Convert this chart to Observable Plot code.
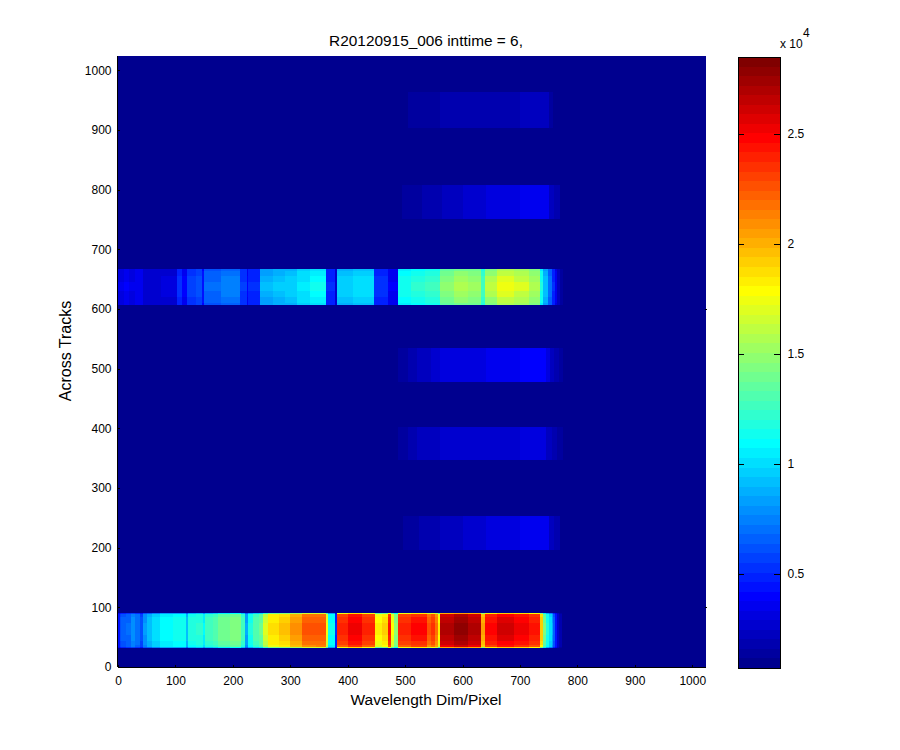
<!DOCTYPE html>
<html><head><meta charset="utf-8">
<script src="https://cdn.jsdelivr.net/npm/d3@7"></script>
<script src="https://cdn.jsdelivr.net/npm/@observablehq/plot@0.6"></script>
<style>
html,body{margin:0;padding:0;background:#fff}
#wrap{position:relative;width:900px;height:750px;font-family:"Liberation Sans",Arial,sans-serif;color:#000;overflow:hidden}
#wrap svg{position:absolute;left:0;top:0}
.t{position:absolute;white-space:nowrap}
</style></head><body><div id="wrap"></div>
<script>
const titleText = "R20120915_006 inttime = 6,";
const xLabel = "Wavelength Dim/Pixel";
const yLabel = "Across Tracks";
const axisTicks = [0,100,200,300,400,500,600,700,800,900,1000];
const barTicks = [5000,10000,15000,20000,25000];
const barTickLabels = ["0.5","1","1.5","2","2.5"];
const valueRange = [730,28500];
const extent = 1024;
const background = 800;

// Strong bands: segment edges along the wavelength axis, and the level in each segment
const bottomEdges = [0,3,6,14,22,30,38,44,50,60,73,95,118,122,135,148,152,165,175,195,215,222,226,235,245,252,262,280,300,320,345,362,366,378,381,400,425,448,460,471,476,481,487,510,538,545,552,558,561,585,610,633,639,660,690,715,735,741,745,750,755,758,761,764,768,773,780];
const bottomValues = [4500,6000,6500,6800,7800,7000,6000,8000,9000,10000,10900,11300,9000,11600,12000,10500,12500,13000,13800,14300,12500,8500,11500,13000,13600,16500,18500,19200,20500,22000,22300,17000,11000,5000,23500,24800,23500,18000,18800,24000,17500,14500,23500,24200,22000,23000,21500,18000,26500,27500,26500,20000,24500,25500,24800,24000,19000,14000,11500,10000,8500,6500,4500,2800,1700,1000];
const upperEdges = [0,10,20,30,44,75,102,111,120,135,146,150,180,212,224,227,247,270,290,311,335,363,378,381,410,445,471,485,487,510,535,561,585,610,633,639,660,690,715,735,741,748,755,761,765,769,775];
const upperValues = [3300,3700,3300,3600,2800,2900,5200,3800,5600,6100,4500,6700,7300,5500,3800,5000,8800,9200,9500,10200,10900,5000,2800,9500,9900,5200,3700,3700,11200,11700,12200,14500,15200,14800,12500,15500,16800,16300,15300,11500,9000,7000,5000,3500,2300,1300];

// Faint bands
const band960Edges = [505,560,600,640,700,750,758,765];
const band960Values = [1250,1600,1700,1900,2200,1500,1100];
const band780Edges = [495,515,530,565,600,640,700,750,760,770,779];
const band780Values = [1200,1500,1900,2400,2700,3000,3400,2300,1600,1100];
const band505Edges = [488,505,520,545,560,600,640,700,745,752,760,768,775];
const band505Values = [1200,1700,2200,2500,2900,3100,3500,3800,3000,2200,1600,1200];
const band375Edges = [488,505,520,560,600,640,700,745,755,765,775];
const band375Values = [1300,1700,2300,2500,2700,2800,3000,2300,1700,1200];
const band225Edges = [497,512,525,560,600,640,700,750,760,770,778];
const band225Values = [1200,1500,2000,2300,2600,3000,3400,2300,1600,1100];

// Across-track brightness of the bands relative to the centre
const bottomRows = [32,34,37,44,54,64,74,84,89,91];
const bottomGain = [0.75,0.95,0.98,1,1.02,1.02,1,0.98,0.75];
const upperRows = [607,610,620,630,645,655,664,667];
const upperGain = [0.93,0.97,1,1.03,1,0.97,0.93];
const rows960 = [903,963];
const rows780 = [750,807];
const rows505 = [477,534];
const rows375 = [347,402];
const rows225 = [196,253];

const table = [];
function addBand(edges, values, rows, gain){
  values.forEach((v,i)=>{
    for(let r=0;r<rows.length-1;r++){
      table.push({x1:edges[i],x2:edges[i+1],y1:rows[r],y2:rows[r+1],v:Math.max(background,v*(gain?gain[r]:1))});
    }
  });
}
addBand(bottomEdges,bottomValues,bottomRows,bottomGain);
addBand(upperEdges,upperValues,upperRows,upperGain);
addBand(band960Edges,band960Values,rows960);
addBand(band780Edges,band780Values,rows780);
addBand(band505Edges,band505Values,rows505);
addBand(band375Edges,band375Values,rows375);
addBand(band225Edges,band225Values,rows225);

// MATLAB jet, 64 steps
const clamp=v=>Math.max(0,Math.min(1,v));
const jet=d3.range(64).map(i=>{const t=(i+1)/64;
  const c=k=>Math.round(255*clamp(1.5-Math.abs(4*t-k)));
  return `rgb(${c(3)},${c(2)},${c(1)})`;});
const step=(valueRange[1]-valueRange[0])/64;
const thresholds=d3.range(1,64).map(i=>valueRange[0]+i*step);
const levels=jet.map((c,i)=>({y1:valueRange[0]+i*step,y2:valueRange[0]+(i+1)*step,c}));

const font={fontFamily:'"Liberation Sans",Arial,sans-serif',fontSize:"12px",background:"transparent",color:"#000"};

const main=Plot.plot({
  width:900,height:750,marginLeft:118,marginRight:194,marginTop:56,marginBottom:83,
  style:font,
  x:{domain:[0,extent]},
  y:{domain:[0,extent]},
  color:{type:"threshold",domain:thresholds,range:jet},
  marks:[
    Plot.rect([{x1:0,x2:extent,y1:0,y2:extent,v:background}],{x1:"x1",x2:"x2",y1:"y1",y2:"y2",fill:"v",shapeRendering:"crispEdges"}),
    Plot.rect(table,{x1:"x1",x2:"x2",y1:"y1",y2:"y2",fill:"v",shapeRendering:"crispEdges"}),
    Plot.axisX(axisTicks,{tickSize:0,tickPadding:9,label:null,fontSize:12,tickFormat:d=>String(d)}),
    Plot.axisY(axisTicks,{tickSize:0,tickPadding:7,label:null,fontSize:12,tickFormat:d=>String(d)}),
    Plot.ruleY([0],{x1:0,x2:extent,dy:0,stroke:"#000",shapeRendering:"crispEdges"}),
    Plot.ruleX([0],{y1:0,y2:extent,dx:-1,stroke:"#000",shapeRendering:"crispEdges"}),
    Plot.ruleX(axisTicks,{y1:0,y2:4,stroke:"#000",shapeRendering:"crispEdges"}),
    Plot.ruleY(axisTicks,{x1:0,x2:4,stroke:"#000",shapeRendering:"crispEdges"}),
    Plot.ruleY([100,600],{x1:extent-2,x2:extent+2,stroke:"#000",shapeRendering:"crispEdges"})
  ]
});

const bar=Plot.plot({
  width:900,height:750,marginLeft:738,marginRight:120,marginTop:57,marginBottom:82,
  style:font,
  x:{domain:[0,1],axis:null},
  y:{domain:valueRange},
  marks:[
    Plot.rect(levels,{x1:0,x2:1,y1:"y1",y2:"y2",fill:"c",shapeRendering:"crispEdges"}),
    Plot.axisY(barTicks,{anchor:"right",tickSize:0,tickPadding:7,label:null,fontSize:12,tickFormat:d=>barTickLabels[barTicks.indexOf(d)]}),
    Plot.ruleY(barTicks,{x1:0,x2:0.14,stroke:"#000",shapeRendering:"crispEdges"}),
    Plot.ruleY(barTicks,{x1:0.86,x2:1,stroke:"#000",shapeRendering:"crispEdges"}),
    Plot.frame({stroke:"#000",strokeWidth:1.5,shapeRendering:"crispEdges"})
  ]
});

const wrap=document.getElementById("wrap");
wrap.append(main,bar);
function label(text,css){const d=document.createElement("div");d.className="t";d.textContent=text;d.style.cssText=css;wrap.append(d);}
label(titleText,"left:426px;top:32px;transform:translateX(-50%);font-size:15.4px;");
label(xLabel,"left:426px;top:691px;transform:translateX(-50%);font-size:15.5px;");
label(yLabel,"left:66px;top:351px;transform:translate(-50%,-50%) rotate(-90deg);font-size:16px;");
label("x 10","left:780px;top:37px;font-size:12px;");
label("4","left:803px;top:26px;font-size:12px;");
</script></body></html>
